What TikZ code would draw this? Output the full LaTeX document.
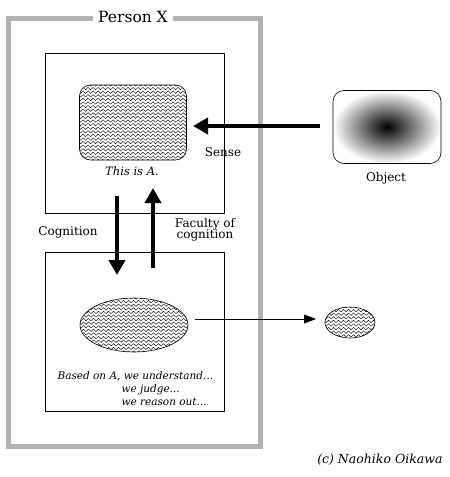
\documentclass[tikz,border=0pt]{standalone}
\usepackage{fontspec}
\setmainfont{DejaVu Serif}
\usetikzlibrary{arrows.meta,decorations.pathmorphing,calc,shapes.geometric}
\tikzset{
  wave/.style={sharp corners,decorate,decoration={snake,amplitude=1.2pt,segment length=5pt},line width=0.4pt},
  wavefill/.style={path picture={
     \foreach \i in {0,...,40}
       \draw[wave] ($(path picture bounding box.north west)+(-3,\i*3.6)$) -- ++(260,0);}},
  box/.style={draw,line width=0.8pt,minimum width=#1},
  thickarrow/.style={line width=4pt,-{Triangle[length=15pt,width=16pt]}},
  thinarrow/.style={line width=0.8pt,-{Triangle[length=12pt,width=9pt]}},
  lbl/.style={font=\fontsize{12}{13}\selectfont,align=center},
  small/.style={font=\itshape\fontsize{10.5}{11}\selectfont,align=left},
}
\begin{document}
\begin{tikzpicture}[x=1pt,y=-1pt]
\useasboundingbox (0,0) rectangle (450,477);
% outer frame
\node[draw=black!30,line width=5pt,minimum width=252pt,minimum height=428pt] (frame) at (134,232) {};
\node[fill=white,inner xsep=5pt,inner ysep=1pt,font=\fontsize{15.5}{17}\selectfont] (title) at (133,17) {Person X};
% inner boxes
\node[box=179pt,minimum height=160pt] (upper) at (134.5,133) {};
\node[box=179pt,minimum height=159pt] (lower) at (134.5,331.5) {};
% A
\node[draw,line width=0.6pt,rounded corners=11pt,minimum width=107pt,minimum height=75pt,wavefill] (A) at (133,122.5) {};
\node[small,font=\itshape\fontsize{11.5}{12}\selectfont] (thisA) at (132,171) {This is A.};
% Object
\node[rounded corners=11pt,minimum width=108pt,minimum height=73pt,inner color=black,outer color=white,draw,line width=0.6pt] (obj) at (387,127) {};
\node[lbl] (objlbl) at (386,178) {Object};
% sense arrow
\coordinate (senseS) at (320,126);
\coordinate (senseE) at (193,126);
\draw[thickarrow] (senseS) -- (senseE);
\node[lbl] (sense) at (223,152) {Sense};
% cognition arrows
\coordinate (cogS) at (117,196);
\coordinate (cogE) at (117,275);
\draw[thickarrow] (cogS) -- (cogE);
\coordinate (facS) at (153,268);
\coordinate (facE) at (153,188);
\draw[thickarrow] (facS) -- (facE);
\node[lbl] (cog) at (68,232) {Cognition};
\node[lbl,inner sep=0pt] (fac) at (205,230) {Faculty of\\[-2pt]cognition};
% lower ellipse
\node[draw,line width=0.6pt,ellipse,minimum width=108pt,minimum height=54pt,inner sep=0pt,wavefill] (B) at (134,325) {};
\node[small,anchor=west] (based) at (54,376) {Based on A, we understand...};
\node[small,anchor=west] (judge) at (118,389.5) {we judge...};
\node[small,anchor=west] (reason) at (118,402) {we reason out...};
% small ellipse
\node[draw,line width=0.6pt,ellipse,minimum width=50pt,minimum height=31pt,inner sep=0pt,wavefill] (C) at (350,322.5) {};
\coordinate (outS) at (195,319);
\coordinate (outE) at (316,319);
\draw[thinarrow] (outS) -- (outE);
% credit
\node[small,anchor=east,font=\itshape\fontsize{12.5}{13}\selectfont] (credit) at (446,460) {(c) Naohiko Oikawa};
\end{tikzpicture}
\end{document}
